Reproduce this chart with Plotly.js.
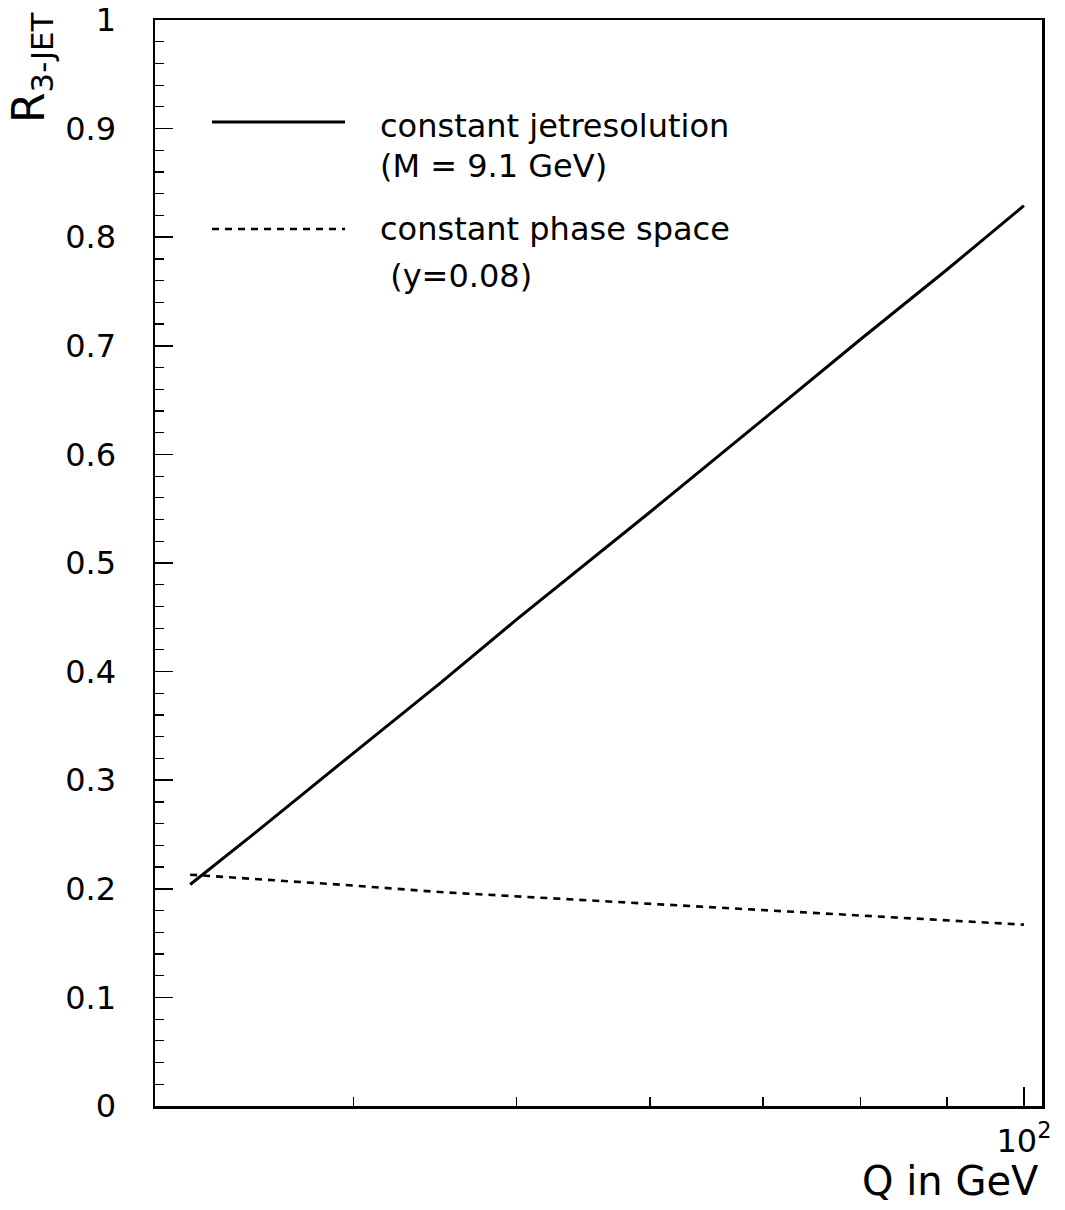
<!DOCTYPE html>
<html>
<head>
<meta charset="utf-8">
<script src="https://cdn.plot.ly/plotly-3.0.1.min.js"></script>
<style>html,body{margin:0;padding:0;background:#fff;}</style>
</head>
<body>
<div id="chart" style="width:1065px;height:1210px;"></div>
<script>
// Data
const Q = [32, 35, 40, 45, 50, 60, 70, 80, 90, 100];
const R_jetres = [0.204, 0.252, 0.325, 0.389, 0.448, 0.547, 0.632, 0.706, 0.770, 0.829];
const R_phase  = [0.213, 0.209, 0.203, 0.197, 0.193, 0.186, 0.180, 0.175, 0.171, 0.167];
const nameJet = "constant jetresolution";
const nameJet2 = "(M = 9.1 GeV)";
const namePhase = "constant phase space";
const namePhase2 = " (y=0.08)";
const xTickVals = [100];
const xTickText = ["10<sup>2</sup>"];
const xMinorVals = [40, 50, 60, 70, 80, 90];

const FONT = "DejaVu Sans, sans-serif";
const W = 1065, H = 1210;
const L = 155, Rm = 23, T = 20, B = 104;
const pw = W - L - Rm, ph = H - T - B;
const px = x => (x - L) / pw;
const py = y => (H - B - y) / ph;

const traces = [
  {x: Q, y: R_jetres, type: 'scatter', mode: 'lines', name: nameJet,
   line: {color: 'black', width: 3}, showlegend: false},
  {x: Q, y: R_phase, type: 'scatter', mode: 'lines', name: namePhase,
   line: {color: 'black', width: 2.6, dash: '7px,6px'}, showlegend: false}
];

const layout = {
  width: W, height: H,
  margin: {l: L, r: Rm, t: T, b: B, pad: 0},
  paper_bgcolor: 'white', plot_bgcolor: 'white',
  font: {family: FONT, color: 'black', size: 32},
  showlegend: false,
  xaxis: {
    type: 'log',
    range: [Math.log10(30.5), Math.log10(102.5)],
    tickmode: 'array', tickvals: xTickVals, ticktext: xTickText,
    ticks: 'inside', ticklen: 19, tickwidth: 1.5, tickcolor: 'black',
    minor: {tickmode: 'array', tickvals: xMinorVals, ticks: 'inside', ticklen: 9, tickwidth: 1.5, tickcolor: 'black'},
    showline: true, linewidth: 2.5, linecolor: 'black', mirror: true,
    showgrid: false, zeroline: false,
    tickfont: {family: FONT, size: 32, color: 'black'},
    ticklabelstandoff: 5
  },
  yaxis: {
    range: [0, 1],
    tickmode: 'linear', tick0: 0, dtick: 0.1,
    ticks: 'inside', ticklen: 18, tickwidth: 1.5, tickcolor: 'black',
    minor: {dtick: 0.02, ticks: 'inside', ticklen: 9, tickwidth: 1.2, tickcolor: 'black'},
    showline: true, linewidth: 2.5, linecolor: 'black', mirror: true,
    showgrid: false, zeroline: false,
    tickfont: {family: FONT, size: 32, color: 'black'},
    ticklabelstandoff: 30
  },
  shapes: [
    {type: 'line', xref: 'paper', yref: 'paper', x0: px(212), x1: px(345), y0: py(122), y1: py(122),
     line: {color: 'black', width: 3}},
    {type: 'line', xref: 'paper', yref: 'paper', x0: px(212), x1: px(345), y0: py(229), y1: py(229),
     line: {color: 'black', width: 2.6, dash: '7px,6px'}}
  ],
  annotations: [
    {text: nameJet, xref: 'paper', yref: 'paper', x: px(378), y: py(126), xanchor: 'left', yanchor: 'middle',
     showarrow: false, font: {family: FONT, size: 32, color: 'black'}},
    {text: nameJet2, xref: 'paper', yref: 'paper', x: px(378), y: py(166), xanchor: 'left', yanchor: 'middle',
     showarrow: false, font: {family: FONT, size: 32, color: 'black'}},
    {text: namePhase, xref: 'paper', yref: 'paper', x: px(378), y: py(229), xanchor: 'left', yanchor: 'middle',
     showarrow: false, font: {family: FONT, size: 32, color: 'black'}},
    {text: namePhase2, xref: 'paper', yref: 'paper', x: px(378), y: py(276), xanchor: 'left', yanchor: 'middle',
     showarrow: false, font: {family: FONT, size: 32, color: 'black'}},
    {text: 'R<sub>3-JET</sub>', xref: 'paper', yref: 'paper', x: px(31), y: py(68), xanchor: 'center', yanchor: 'middle',
     textangle: -90, showarrow: false, font: {family: FONT, size: 44, color: 'black'}},
    {text: 'Q in GeV', xref: 'paper', yref: 'paper', x: px(1041), y: py(1181), xanchor: 'right', yanchor: 'middle',
     showarrow: false, font: {family: FONT, size: 40, color: 'black'}}
  ]
};

Plotly.newPlot('chart', traces, layout, {staticPlot: true, displayModeBar: false});
</script>
</body>
</html>
